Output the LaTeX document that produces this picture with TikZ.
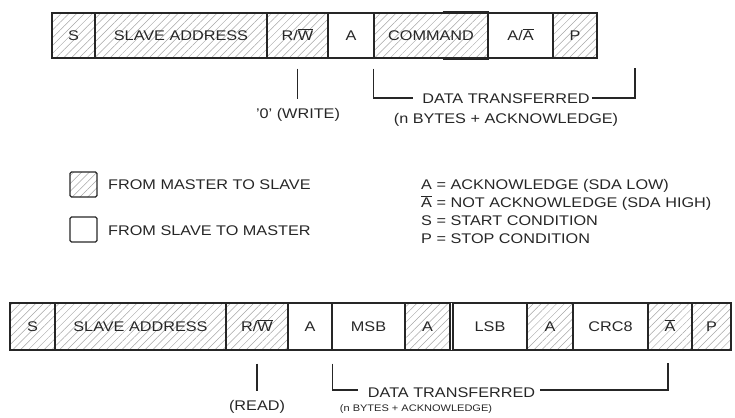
\documentclass[tikz,border=0pt]{standalone}
\usepackage{fontspec}
\setmainfont{Liberation Sans}[FakeStretch=1.16]
\usetikzlibrary{patterns.meta}
\newcommand\ovl[1]{$\overline{\hbox{#1}}$}
\definecolor{ink}{HTML}{262626}
\tikzset{
  cell/.style={draw=ink, line width=1.3pt, inner sep=0pt, text height=10pt, text depth=0pt, text=ink},
  hatch/.style={pattern={Lines[angle=45,distance=5.5pt,line width=0.5pt]}, pattern color=gray!70},
  toprow/.style={cell, minimum height=45pt},
  botrow/.style={cell, minimum height=47pt},
  lbl/.style={inner sep=0pt, text height=10pt, text depth=0pt, text=ink},
  smalllbl/.style={lbl, font=\fontsize{9.5}{11}\selectfont, text height=7pt},
  wire/.style={draw=ink, line width=1.3pt},
  legbox/.style={draw=ink, line width=1.3pt, rounded corners=1.5pt, minimum width=27pt, minimum height=25pt, inner sep=0pt}
}
\begin{document}
\begin{tikzpicture}[x=1pt,y=-1pt, font=\fontsize{14}{16}\selectfont]
\useasboundingbox (0,0) rectangle (735,417);
% ---- top row ----
\node[toprow, hatch, minimum width=43pt]  (t1) at (73.5,35.5) {S};
\node[toprow, hatch, minimum width=172pt] (t2) at (181,35.5) {SLAVE ADDRESS};
\node[toprow, hatch, minimum width=61pt]  (t3) at (297.5,35.5) {R/\ovl{W}};
\node[toprow, minimum width=46pt]         (t4) at (351,35.5) {A};
\node[toprow, hatch, minimum width=114pt] (t5) at (431,35.5) {COMMAND};
\node[toprow, minimum width=65pt]         (t6) at (520.5,35.5) {A/\ovl{A}};
\node[toprow, hatch, minimum width=44pt]  (t7) at (575,35.5) {P};
\draw[ink, line width=2.4pt] ([xshift=-46pt]t5.north east) -- (t5.north east);
\draw[ink, line width=2.4pt] ([xshift=-46pt]t5.south east) -- (t5.south east);
% top annotations
\node[lbl] (w0) at (298,113) {'0' (WRITE)};
\draw[wire] ([yshift=-10pt]t3.south) -- ++(0,30);
\node[lbl] (dt1) at (506,98) {DATA TRANSFERRED};
\node[lbl] (nb1) at (506,118) {(n BYTES + ACKNOWLEDGE)};
\coordinate (te) at (635,68);
\draw[wire] ([yshift=-10pt]t5.south west) |- ([xshift=-9pt]dt1.west);
\draw[wire] ([xshift=2pt]dt1.east) -| (te);
% ---- legend ----
\node[legbox, hatch] (lm) at (83.5,184.5) {};
\node[lbl, anchor=west] (lmt) at (108,184) {FROM MASTER TO SLAVE};
\node[legbox] (ls) at (83.5,229.5) {};
\node[lbl, anchor=west] (lst) at (108,230) {FROM SLAVE TO MASTER};
\node[lbl, anchor=west] (k1) at (421,184) {A = ACKNOWLEDGE (SDA LOW)};
\node[lbl, anchor=west] (k2) at (421,202) {\ovl{A} = NOT ACKNOWLEDGE (SDA HIGH)};
\node[lbl, anchor=west] (k3) at (421,220) {S = START CONDITION};
\node[lbl, anchor=west] (k4) at (421,238) {P = STOP CONDITION};
% ---- bottom row ----
\node[botrow, hatch, minimum width=45pt]  (b1) at (32.5,326.5) {S};
\node[botrow, hatch, minimum width=171pt] (b2) at (140.5,326.5) {SLAVE ADDRESS};
\node[botrow, hatch, minimum width=62pt]  (b3) at (257,326.5) {R/\ovl{W}};
\node[botrow, minimum width=44pt]         (b4) at (310,326.5) {A};
\node[botrow, minimum width=73pt]         (b5) at (368.5,326.5) {MSB};
\node[botrow, hatch, minimum width=45pt]  (b6) at (427.5,326.5) {A};
\node[botrow, minimum width=74pt]         (b7) at (490,326.5) {LSB};
\node[botrow, hatch, minimum width=46pt]  (b8) at (550,326.5) {A};
\node[botrow, minimum width=75pt]         (b9) at (610.5,326.5) {CRC8};
\node[botrow, hatch, minimum width=44pt]  (b10) at (670,326.5) {\ovl{A}};
\node[botrow, hatch, minimum width=39pt]  (b11) at (711.5,326.5) {P};
\draw[wire] (b6.north east) -- (b7.north west);
\draw[wire] (b6.south east) -- (b7.south west);
% bottom annotations
\node[lbl] (rd) at (257,405) {(READ)};
\draw[wire] ([yshift=-13pt]b3.south) -- ++(0,27);
\node[lbl] (dt2) at (451.5,392) {DATA TRANSFERRED};
\node[smalllbl] (nb2) at (416,408) {(n BYTES + ACKNOWLEDGE)};
\coordinate (be) at (668,363);
\draw[wire] ([yshift=-13pt]b4.south east) |- ([xshift=-10pt,yshift=2pt]dt2.west);
\draw[wire] ([xshift=5pt,yshift=2pt]dt2.east) -| (be);
\end{tikzpicture}
\end{document}
